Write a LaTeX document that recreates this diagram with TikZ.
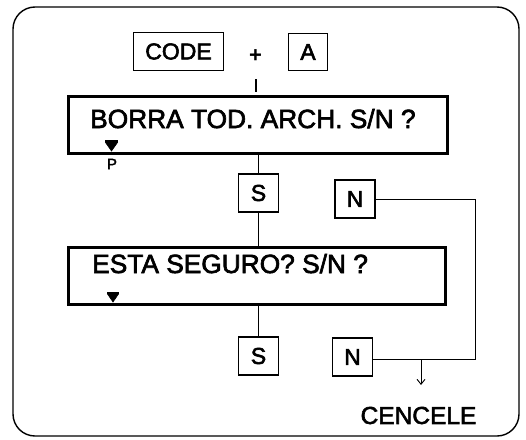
\documentclass[tikz,border=0pt]{standalone}
\usepackage{fontspec}
\setmainfont{Liberation Sans}
\newfontfamily\heavy{Liberation Sans}[FakeBold=2.5]
\usetikzlibrary{arrows.meta}
\begin{document}
\begin{tikzpicture}[x=1pt,y=-1pt,
  keybox/.style={draw,line width=1.3pt,inner sep=0pt,font=\heavy\fontsize{23}{23}\selectfont},
  display/.style={draw,line width=2.8pt,inner sep=0pt},
  disptext/.style={inner sep=0pt,anchor=base west,font=\heavy\fontsize{26.3}{26.3}\selectfont},
  conn/.style={line width=0.9pt},
  marker/.style={fill=black,draw=black,line width=0.6pt}]
\useasboundingbox (0,0) rectangle (526,439);
\draw[line width=1.4pt,rounded corners=22pt] (13,7) rectangle (519,436);
% keys at top
\node[keybox,minimum width=90pt,minimum height=38pt] (code) at (178.5,51.5) {CODE};
\node[font=\fontsize{22}{22}\selectfont\bfseries,inner sep=0pt] (plus) at (255.5,56) {+};
\node[keybox,minimum width=39pt,minimum height=37pt] (keyA) at (308,52) {A};
\coordinate (t1) at (256,79);
\coordinate (t2) at (256,92);
\draw[line width=1.1pt] (t1) -- (t2);
% first display
\node[display,minimum width=379pt,minimum height=57pt] (borra) at (258,125) {};
\node[disptext] (borratxt) at (90,128) {BORRA TOD. ARCH. S/N ?};
\draw[marker] (105.5,140.5) -- (117.5,140.5) -- (117.5,142.5) -- (111.5,151) -- (105.5,142.5) -- cycle;
\node[inner sep=0pt,font=\heavy\fontsize{15}{15}\selectfont] (p) at (112,164) {P};
% first answer keys
\node[keybox,minimum width=40pt,minimum height=38pt] (s1) at (258.5,193) {S};
\node[keybox,minimum width=40pt,minimum height=38pt] (n1) at (355,199) {N};
% second display
\node[display,minimum width=377pt,minimum height=57pt] (esta) at (257,276) {};
\node[disptext] (estatxt) at (92,273) {ESTA SEGURO? S/N ?};
\draw[marker] (107.5,292.5) -- (118.5,292.5) -- (118.5,294) -- (113,302) -- (107.5,294) -- cycle;
% second answer keys
\node[keybox,minimum width=40pt,minimum height=38pt] (s2) at (258.5,356) {S};
\node[keybox,minimum width=40pt,minimum height=38pt] (n2) at (352.5,357) {N};
% cancel
\node[inner sep=0pt,font=\heavy\fontsize{24.5}{24.5}\selectfont] (cancel) at (418.5,415.5) {CENCELE};
\coordinate (rc1) at (475,199);
\coordinate (rc2) at (475,359);
\coordinate (ar1) at (421,359);
\coordinate (ar2) at (421,385);
% connectors
\draw[conn] (s1.north) -- (s1.north |- borra.south);
\draw[conn] (s1.south) -- (s1.south |- esta.north);
\draw[conn] (s2.north) -- (s2.north |- esta.south);
\draw[conn] (n1.east) -- (rc1) -- (rc2) -- (n2.east |- rc2);
\draw[conn,-{Straight Barb[length=5pt,width=8pt]}] (ar1) -- (ar2);
\end{tikzpicture}
\end{document}
